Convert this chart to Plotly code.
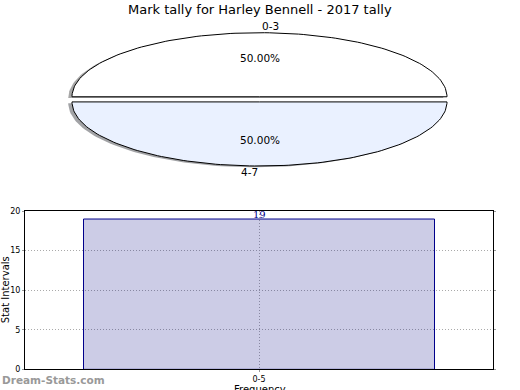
import math
import plotly.graph_objects as go

# ---------------- data ----------------
title_text = "Mark tally for Harley Bennell - 2017 tally"
pie_labels = ["0-3", "4-7"]
pie_values = [50, 50]
pie_colors = ["#ffffff", "#eaf1ff"]
shadow_colors = ["rgba(77,77,77,0.5)", "rgba(70,72,77,0.5)"]

bar_categories = ["0-5"]
bar_values = [19]
y_ticks = [0, 5, 10, 15, 20]

W, H = 520, 390
fig = go.Figure()

# ---------------- pie (elliptical, drawn on its own axes) ----------------
explode = 0.04
shadow_off = (-0.02, -0.02)
total = sum(pie_values)
n_pts = 120


def wedge(a0, a1, dx, dy):
    xs, ys = [dx], [dy]
    for k in range(n_pts + 1):
        t = math.radians(a0 + (a1 - a0) * k / n_pts)
        xs.append(dx + math.cos(t))
        ys.append(dy + math.sin(t))
    xs.append(dx)
    ys.append(dy)
    return xs, ys


angles = []
start = 0.0
for v in pie_values:
    a1 = start + 360.0 * v / total
    angles.append((start, a1))
    start = a1

for i, (a0, a1) in enumerate(angles):
    mid = math.radians((a0 + a1) / 2)
    xs, ys = wedge(a0, a1, explode * math.cos(mid), explode * math.sin(mid))
    fig.add_trace(go.Scatter(
        x=[x + shadow_off[0] for x in xs], y=[y + shadow_off[1] for y in ys],
        mode="lines", fill="toself", fillcolor=shadow_colors[i],
        line=dict(width=0), xaxis="x2", yaxis="y2", hoverinfo="skip",
        showlegend=False))

for i, (a0, a1) in enumerate(angles):
    v = pie_values[i]
    mid = math.radians((a0 + a1) / 2)
    dx = explode * math.cos(mid)
    dy = explode * math.sin(mid)
    xs, ys = wedge(a0, a1, dx, dy)
    fig.add_trace(go.Scatter(
        x=xs, y=ys, mode="lines", fill="toself", fillcolor=pie_colors[i],
        line=dict(color="black", width=1), xaxis="x2", yaxis="y2",
        hoverinfo="skip", showlegend=False))
    fig.add_annotation(
        x=dx + 0.6 * math.cos(mid), y=dy + 0.6 * math.sin(mid),
        xref="x2", yref="y2", text="%.2f%%" % (100.0 * v / total),
        showarrow=False, font=dict(size=10.5, color="black"),
        xanchor="center", yanchor="middle")
    cx = 1.1 * math.cos(mid)
    fig.add_annotation(
        x=dx + cx, y=dy + 1.1 * math.sin(mid),
        xref="x2", yref="y2", text=pie_labels[i], showarrow=False,
        font=dict(size=10.5, color="black"),
        xanchor="left" if cx > 0 else "right", yanchor="middle")

# pie axes: 1 unit = rx px horizontally, ry px vertically
cx_px, cy_px, rx_px, ry_px = 259.5, 97.6, 187.5, 65.6
top_h = 200.0
fig.update_layout(
    xaxis2=dict(domain=[0, 1], anchor="y2",
                range=[-cx_px / rx_px, (W - cx_px) / rx_px],
                visible=False, fixedrange=True),
    yaxis2=dict(domain=[1 - top_h / H, 1], anchor="x2",
                range=[-(top_h - cy_px) / ry_px, cy_px / ry_px],
                visible=False, fixedrange=True),
)

# ---------------- bar chart ----------------
fig.add_trace(go.Bar(
    x=bar_categories, y=bar_values, width=0.75,
    marker=dict(color="rgba(0,0,128,0.2)", line=dict(color="#00008b", width=1)),
    hoverinfo="skip", showlegend=False, xaxis="x", yaxis="y"))

for c, v in zip(bar_categories, bar_values):
    fig.add_annotation(x=c, y=v, xref="x", yref="y", text=str(v),
                       showarrow=False, yshift=5,
                       font=dict(family="DejaVu Serif", size=10, color="#00008b"),
                       xanchor="center", yanchor="middle")

ax_l, ax_r, ax_t, ax_b = 25, 493, 212, 374
grid = dict(showgrid=True, gridcolor="#aaaaaa", griddash="1px,2px", gridwidth=1)
fig.update_layout(
    xaxis=dict(domain=[ax_l / W, ax_r / W], anchor="y", range=[-0.5, 0.5],
               showline=True, linecolor="black", linewidth=1, mirror=True,
               ticks="outside", ticklen=2, tickcolor="#999",
               tickfont=dict(size=8, color="black"), zeroline=False, **grid),
    yaxis=dict(domain=[1 - ax_b / H, 1 - ax_t / H], anchor="x", range=[0, 20],
               tickvals=y_ticks, showline=True, linecolor="black", linewidth=1,
               mirror="ticks", ticks="outside", ticklen=2, tickcolor="#999",
               tickfont=dict(size=8, color="black"), zeroline=False, **grid),
)

# texts
fig.add_annotation(x=0.5, y=1 - 5.5 / H, xref="paper", yref="paper",
                   text=title_text, showarrow=False,
                   font=dict(size=13, color="black"),
                   xanchor="center", yanchor="middle")
fig.add_annotation(x=5 / W, y=1 - 293 / H, xref="paper", yref="paper",
                   text="Stat Intervals", textangle=-90, showarrow=False,
                   font=dict(size=10, color="black"),
                   xanchor="center", yanchor="middle")
fig.add_annotation(x=260 / W, y=1 - 387 / H, xref="paper", yref="paper",
                   text="Frequency", showarrow=False,
                   font=dict(size=10, color="black"),
                   xanchor="center", yanchor="top")
fig.add_annotation(x=0, y=1 - 385 / H, xref="paper", yref="paper",
                   text="<b>Dream-Stats.com</b>", showarrow=False,
                   font=dict(size=10.5, color="#999999"),
                   xanchor="left", yanchor="middle")

fig.update_layout(
    width=W, height=H, margin=dict(l=0, r=0, t=0, b=0),
    paper_bgcolor="white", plot_bgcolor="rgba(0,0,0,0)",
    font=dict(family="DejaVu Sans"),
    showlegend=False,
)

css_fix = (
    "var s=document.createElement('style');"
    "s.textContent='html,body{margin:0;padding:0;overflow:hidden;"
    "width:520px;height:390px;}';"
    "document.head.appendChild(s);"
)
fig.write_html("out.html", config={"displayModeBar": False},
               post_script=css_fix)
